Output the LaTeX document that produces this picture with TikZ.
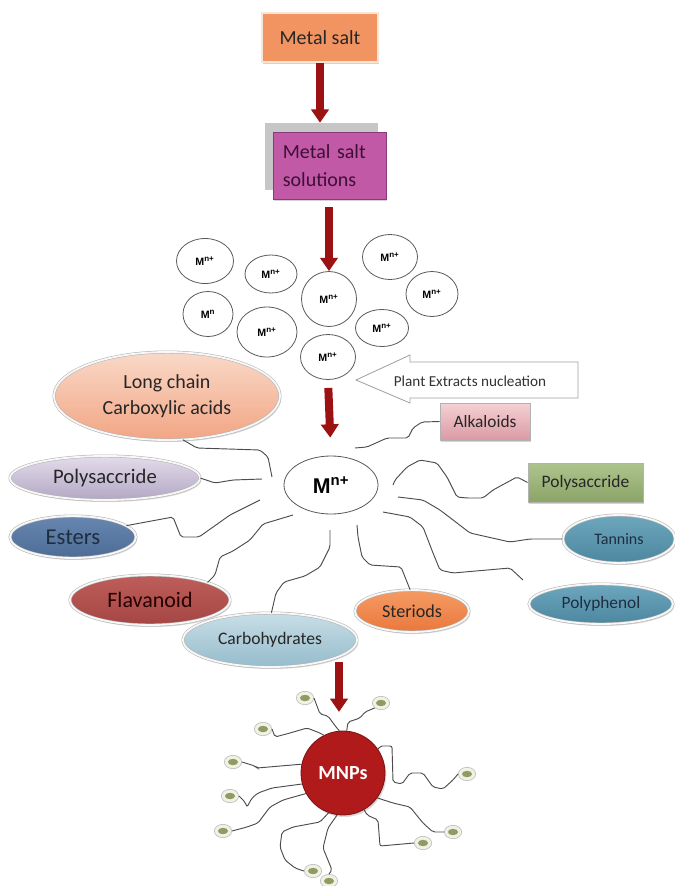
\documentclass[tikz,border=0pt]{standalone}
\usepackage{fontspec}
\setmainfont{Carlito}
\newfontfamily\arialfont{Liberation Sans}
\usepackage{xcolor}
\usetikzlibrary{shapes, arrows.meta, shadows, positioning}

\definecolor{arrowred}{HTML}{9C1111}
\definecolor{saltorange}{HTML}{F29461}
\definecolor{saltrim}{HTML}{F7E6D6}
\definecolor{solpink}{HTML}{C159A6}
\definecolor{solrim}{HTML}{8A3A7A}
\definecolor{soltext}{HTML}{3C1036}
\definecolor{mnpred}{HTML}{B01A1A}
\definecolor{beadcream}{HTML}{F2F2E4}
\definecolor{beadgreen}{HTML}{8C9C64}
\definecolor{acidtop}{HTML}{F9D9C8}
\definecolor{acidbot}{HTML}{F2A584}
\definecolor{lilactop}{HTML}{E3DCEA}
\definecolor{lilacbot}{HTML}{B3A7C4}
\definecolor{steeltop}{HTML}{6786B0}
\definecolor{steelbot}{HTML}{4C6B95}
\definecolor{flavtop}{HTML}{BD5E5A}
\definecolor{flavbot}{HTML}{A44644}
\definecolor{icetop}{HTML}{C8DEE7}
\definecolor{icebot}{HTML}{95BCCB}
\definecolor{stertop}{HTML}{F59B63}
\definecolor{sterbot}{HTML}{E9783D}
\definecolor{rosetop}{HTML}{F5D0D5}
\definecolor{rosebot}{HTML}{DA9AA3}
\definecolor{olivetop}{HTML}{AEC48E}
\definecolor{olivebot}{HTML}{8BA467}
\definecolor{tealtop}{HTML}{6CA7BE}
\definecolor{tealbot}{HTML}{4D879F}
\definecolor{navyink}{HTML}{1E2D40}

\newcommand{\Mion}[1]{M\textsuperscript{#1}}

\tikzstyle{bigarrow}=[draw=arrowred, line width=6pt, -{Triangle[width=13pt,length=10pt]}]
\tikzstyle{vine}=[draw=black!70, line width=0.7pt, rounded corners=1.5pt]
\tikzstyle{ion}=[ellipse, draw=black!65, line width=0.6pt, fill=white, inner sep=0pt,
minimum width=40pt, minimum height=33pt, font=\arialfont\bfseries\fontsize{8}{9}\selectfont]
\tikzstyle{blob}=[ellipse, inner sep=0pt, draw=gray!60, double=white!94!gray, double distance=1.4pt,
line width=0.4pt, text=black!85, drop shadow={opacity=0.3, shadow xshift=1pt, shadow yshift=-1.5pt}]
\tikzstyle{tag}=[rectangle, inner sep=0pt, draw=gray!60, line width=0.6pt, text=black!85,
drop shadow={opacity=0.35, shadow xshift=1pt, shadow yshift=-1.5pt}]
\tikzstyle{bead}=[ellipse, inner sep=0pt, minimum width=13pt, minimum height=10pt, draw=gray!50,
line width=0.5pt, fill=beadcream,
path picture={\fill[beadgreen] (path picture bounding box.center) ellipse (3.8pt and 2.4pt);}]

\begin{document}
\begin{tikzpicture}[x=0.75pt,y=-0.75pt]
\useasboundingbox (0,0) rectangle (675,886);

\node[tag, fill=saltorange, draw=saltrim, line width=1.5pt, minimum width=87pt, minimum height=36.75pt,
  font=\fontsize{15}{18}\selectfont] (salt) at (320,37.5) {Metal salt};
\node[fill=gray!45, minimum width=84.75pt, minimum height=50.25pt] (solback) at (321.5,156.5) {};
\node[tag, fill=solpink, draw=solrim, minimum width=84.75pt, minimum height=50.25pt, text width=70pt,
  align=left, text=soltext, font=\fontsize{15}{21}\selectfont] (sol) at (329.5,165.5) {Metal salt\\solutions};

\node[ion, minimum width=42.75pt, minimum height=33.75pt] (ion1) at (205,261) {\Mion{n+}};
\node[ion, minimum width=39pt, minimum height=28.5pt] (ion2) at (271,274) {\Mion{n+}};
\node[ion, minimum width=41.25pt, minimum height=41.25pt] (ion3) at (329,299) {\Mion{n+}};
\node[ion, minimum width=41.25pt, minimum height=33.75pt] (ion4) at (390,257) {\Mion{n+}};
\node[ion, minimum width=39pt, minimum height=33.75pt] (ion5) at (432,294) {\Mion{n+}};
\node[ion, minimum width=37.5pt, minimum height=33.75pt] (ion6) at (208,314) {\Mion{n}};
\node[ion, minimum width=45pt, minimum height=37.5pt] (ion7) at (267,332) {\Mion{n+}};
\node[ion, minimum width=39.75pt, minimum height=27.75pt] (ion8) at (382,328) {\Mion{n+}};
\node[ion, minimum width=41.25pt, minimum height=33.75pt] (ion9) at (328,357) {\Mion{n+}};

\draw[draw=gray!75, fill=white, line width=0.6pt] (578,362) -- (410,362) -- (410,355) -- (356,380)
  -- (410,403) -- (410,398) -- (578,398) -- cycle;
\node[text=black!80, font=\fontsize{11.4}{13}\selectfont] (plant) at (470,381) {Plant Extracts nucleation};

\node[ion, minimum width=70.5pt, minimum height=43.5pt, font=\arialfont\bfseries\fontsize{16}{18}\selectfont]
  (core) at (331,485) {\Mion{n+}};

\node[blob, top color=acidtop, bottom color=acidbot, minimum width=169.5pt,
  minimum height=66pt, align=center, font=\fontsize{15}{19}\selectfont] (acid) at (167,396) {Long chain\\Carboxylic acids};
\node[blob, top color=lilactop, bottom color=lilacbot, minimum width=142.5pt,
  minimum height=33pt, font=\fontsize{15.5}{18}\selectfont] (polyL) at (105,478) {Polysaccride};
\node[blob, top color=steeltop, bottom color=steelbot, minimum width=94.5pt,
  minimum height=31.5pt, text=navyink, font=\fontsize{17}{20}\selectfont] (ester) at (73,537) {Esters};
\node[blob, top color=flavtop, bottom color=flavbot, minimum width=120pt,
  minimum height=37.5pt, text=black!85!red, font=\fontsize{16.5}{20}\selectfont] (flav) at (150,600) {Flavanoid};
\node[blob, top color=icetop, bottom color=icebot, minimum width=130.5pt,
  minimum height=40.5pt, font=\fontsize{13.2}{16}\selectfont] (carbo) at (270,640) {Carbohydrates};
\node[blob, top color=stertop, bottom color=sterbot, minimum width=85.5pt,
  minimum height=31.5pt, font=\fontsize{13.6}{16}\selectfont] (ster) at (412,611) {Steriods};
\node[tag, top color=rosetop, bottom color=rosebot, minimum width=67.5pt,
  minimum height=27.75pt, font=\fontsize{13}{16}\selectfont] (alk) at (485,421.5) {Alkaloids};
\node[tag, top color=olivetop, bottom color=olivebot, minimum width=86.25pt,
  minimum height=29.25pt, font=\fontsize{13.1}{16}\selectfont] (polyR) at (585.5,482.5) {Polysaccride};
\node[blob, top color=tealtop, bottom color=tealbot, minimum width=84pt,
  minimum height=36pt, text=navyink, font=\fontsize{12}{14}\selectfont] (tan) at (619,539) {Tannins};
\node[blob, top color=tealtop, bottom color=tealbot, minimum width=108pt,
  minimum height=30pt, text=navyink, font=\fontsize{13}{16}\selectfont] (phen) at (601,604) {Polyphenol};

\node[circle, fill=mnpred, draw=mnpred!70!black, line width=0.6pt, minimum size=63pt, inner sep=0pt,
  text=white, font=\bfseries\fontsize{15}{18}\selectfont,
  drop shadow={opacity=0.3, shadow xshift=1pt, shadow yshift=-1.5pt}] (mnp) at (343,773) {MNPs};

\node[bead] (d1) at (305,698) {};
\node[bead] (d2) at (381,703) {};
\node[bead] (d3) at (263,729) {};
\node[bead] (d4) at (233,762) {};
\node[bead] (d5) at (230,796) {};
\node[bead] (d6) at (223,831) {};
\node[bead] (d7) at (313,871) {};
\node[bead] (d8) at (329,881) {};
\node[bead] (d9) at (423,843) {};
\node[bead] (d10) at (453,832) {};
\node[bead] (d11) at (467,774) {};

\coordinate (acidEnd) at (272,477);
\coordinate (polyLEnd) at (262,479);
\coordinate (esterEnd) at (260,500);
\coordinate (flavEnd) at (293,515);
\coordinate (carboEnd) at (330,530);
\coordinate (sterEnd) at (357,525);
\coordinate (alkEnd) at (355,448);
\coordinate (polyREnd) at (393,485);
\coordinate (tanEnd) at (398,497);
\coordinate (phenA) at (383,512);
\coordinate (phenB) at (523,580);
\coordinate (arrowTail) at (339,662);

\draw[vine] (acid.290) -- (197,448) -- (260,450) -- (268,457) -- (acidEnd);
\draw[vine] (polyL.east) -- (215,483) -- (233,480) -- (polyLEnd);
\draw[vine] (ester.12) -- (173,517) -- (181,537) -- (199,537) -- (230,515) -- (esterEnd);
\draw[vine] (flav.17) -- (215,575) -- (220,557) -- (233,551) -- (250,540) -- (263,524) -- (flavEnd);
\draw[vine] (carbo.87) -- (276,593) -- (284,582) -- (305,576) -- (320,567) -- (330,547) -- (carboEnd);
\draw[vine] (ster.95) -- (401,567) -- (370,565) -- (362,557) -- (358,537) -- (sterEnd);
\draw[vine] (alk.west) -- (422,422) -- (413,428) -- (408,438) -- (387,438) -- (367,447) -- (alkEnd);
\draw[vine] (polyR.west) -- (517,477) -- (493,490) -- (483,498) -- (467,498) -- (457,497) -- (447,477)
  -- (437,463) -- (420,460) -- (407,467) -- (395,480) -- (polyREnd);
\draw[vine] (tan.west) -- (530,539) -- (510,542) -- (470,533) -- (457,523) -- (440,510) -- (423,500) -- (tanEnd);
\draw[vine] (phenA) -- (410,517) -- (423,527) -- (433,553) -- (440,570) -- (453,573) -- (510,568) -- (phenB);

\draw[vine] (d1.east) -- (320,714) -- (328,716) -- (336,727) -- (mnp.95);
\draw[vine] (d2.south west) -- (365,712) -- (360,718) -- (348,722) -- (mnp.85);
\draw[vine] (d3.east) -- (275,737) -- (290,733) -- (307,728) -- (320,733) -- (mnp.117);
\draw[vine] (d4.east) -- (255,766) -- (257,768) -- (mnp.168);
\draw[vine] (d5.east) -- (245,802) -- (247,807) -- (252,798) -- (258,793) -- (272,788) -- (mnp.195);
\draw[vine] (d6.east) -- (247,827) -- (258,823) -- (270,807) -- (283,800) -- (mnp.209);
\draw[vine] (d7.west) -- (295,868) -- (285,860) -- (280,847) -- (282,832) -- (293,827) -- (320,822) -- (mnp.250);
\draw[vine] (d8.north) -- (332,870) -- (323,848) -- (328,828) -- (mnp.262);
\draw[vine] (d9.west) -- (380,846) -- (378,820) -- (367,815) -- (mnp.300);
\draw[vine] (d10.west) -- (433,832) -- (423,823) -- (410,807) -- (393,803) -- (mnp.324);
\draw[vine] (d11.west) -- (453,780) -- (443,789) -- (433,787) -- (423,773) -- (410,773) -- (402,784)
  -- (393,782) -- (392,746) -- (380,746) -- (mnp.34);

\draw[bigarrow] (salt.south) -- (salt.south |- solback.north);
\draw[bigarrow, shorten <=6pt] (ion3.north |- sol.south) -- (ion3.north);
\draw[bigarrow, shorten <=6pt, shorten >=13.5pt] (ion9.south) -- (core.north);
\draw[bigarrow, shorten >=14pt] (arrowTail) -- (arrowTail |- mnp.north);
\end{tikzpicture}
\end{document}
